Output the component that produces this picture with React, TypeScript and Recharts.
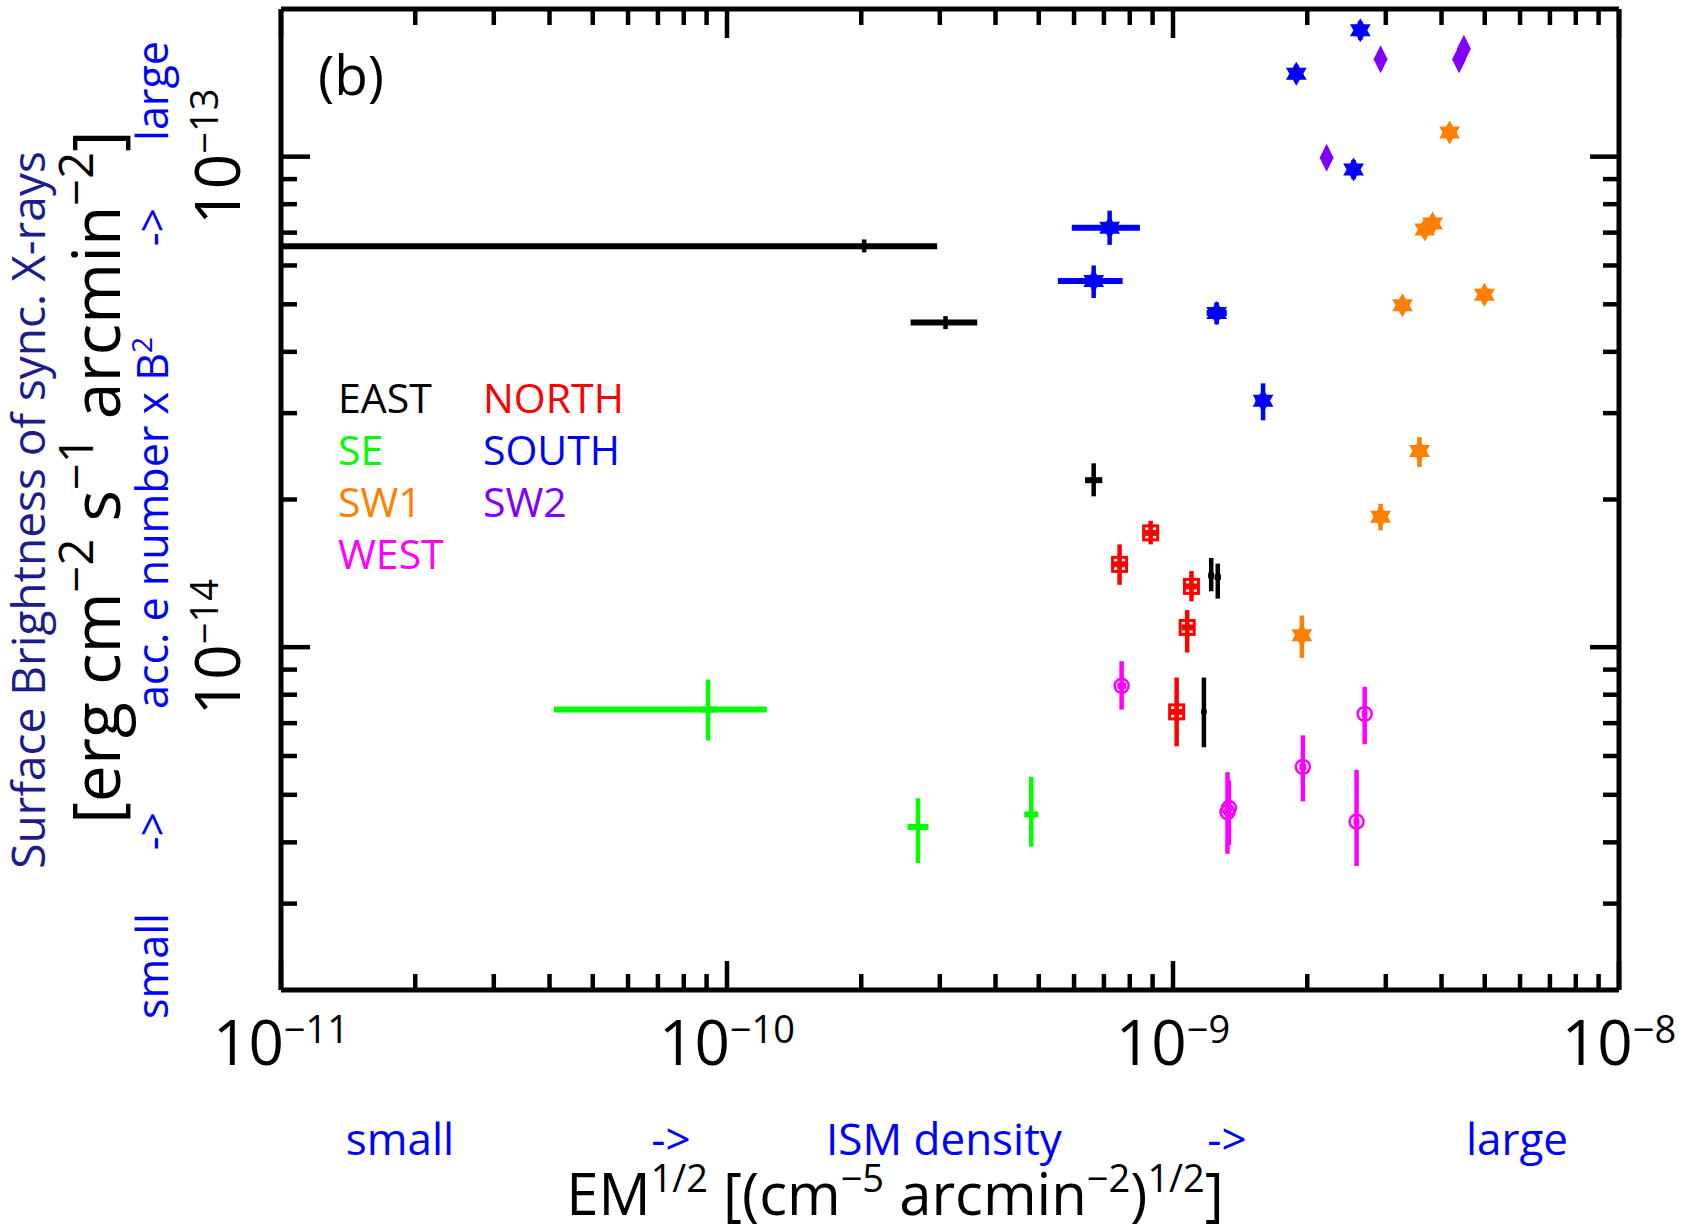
import { ScatterChart, Scatter, XAxis, YAxis, ErrorBar } from "recharts";

const FONT = "'Open Sans', 'Noto Sans', sans-serif";

// each point: [x, y, xLow, xHigh, yLow, yHigh]
type Pt = [number, number, number, number, number, number];

const eastPts: Pt[] = [
  [2.03e-10, 6.57e-14, 1e-11, 2.96e-10, 6.38e-14, 6.78e-14],
  [3.09e-10, 4.59e-14, 2.58e-10, 3.64e-10, 4.45e-14, 4.73e-14],
  [6.64e-10, 2.19e-14, 6.35e-10, 6.94e-10, 2.03e-14, 2.37e-14],
  [1.218e-9, 1.4e-14, 1.2e-9, 1.235e-9, 1.3e-14, 1.52e-14],
  [1.26e-9, 1.39e-14, 1.24e-9, 1.28e-9, 1.256e-14, 1.48e-14],
  [1.173e-9, 7.38e-15, 1.16e-9, 1.186e-9, 6.25e-15, 8.67e-15],
];

const northPts: Pt[] = [
  [7.59e-10, 1.475e-14, 7.35e-10, 7.85e-10, 1.34e-14, 1.62e-14],
  [8.91e-10, 1.71e-14, 8.62e-10, 9.2e-10, 1.62e-14, 1.81e-14],
  [1.1e-9, 1.33e-14, 1.065e-9, 1.135e-9, 1.24e-14, 1.43e-14],
  [1.076e-9, 1.097e-14, 1.045e-9, 1.11e-9, 9.75e-15, 1.19e-14],
  [1.019e-9, 7.38e-15, 9.85e-10, 1.055e-9, 6.28e-15, 8.67e-15],
];

const sePts: Pt[] = [
  [9.07e-11, 7.46e-15, 4.09e-11, 1.228e-10, 6.45e-15, 8.59e-15],
  [2.68e-10, 4.3e-15, 2.54e-10, 2.83e-10, 3.63e-15, 4.92e-15],
  [4.81e-10, 4.56e-15, 4.7e-10, 4.92e-10, 3.92e-15, 5.44e-15],
];

const southPts: Pt[] = [
  [7.21e-10, 7.16e-14, 5.93e-10, 8.43e-10, 6.61e-14, 7.76e-14],
  [6.64e-10, 5.58e-14, 5.52e-10, 7.71e-10, 5.15e-14, 6.0e-14],
  [1.253e-9, 4.8e-14, 1.19e-9, 1.32e-9, 4.55e-14, 5.05e-14],
  [1.592e-9, 3.18e-14, 1.53e-9, 1.65e-9, 2.9e-14, 3.45e-14],
  [1.89e-9, 1.476e-13, 1.83e-9, 1.95e-9, 1.42e-13, 1.54e-13],
  [2.63e-9, 1.81e-13, 2.56e-9, 2.7e-9, 1.73e-13, 1.89e-13],
  [2.54e-9, 9.41e-14, 2.48e-9, 2.6e-9, 9.0e-14, 9.85e-14],
];

const sw1Pts: Pt[] = [
  [4.17e-9, 1.12e-13, 4.07e-9, 4.27e-9, 1.08e-13, 1.16e-13],
  [3.82e-9, 7.31e-14, 3.73e-9, 3.91e-9, 7.05e-14, 7.58e-14],
  [3.67e-9, 7.1e-14, 3.58e-9, 3.76e-9, 6.85e-14, 7.36e-14],
  [3.27e-9, 4.98e-14, 3.19e-9, 3.35e-9, 4.8e-14, 5.16e-14],
  [4.99e-9, 5.23e-14, 4.87e-9, 5.11e-9, 5.04e-14, 5.42e-14],
  [3.57e-9, 2.51e-14, 3.49e-9, 3.65e-9, 2.33e-14, 2.68e-14],
  [2.92e-9, 1.845e-14, 2.85e-9, 2.99e-9, 1.73e-14, 1.96e-14],
  [1.945e-9, 1.057e-14, 1.9e-9, 1.99e-9, 9.51e-15, 1.16e-14],
];

const sw2Pts: Pt[] = [
  [2.92e-9, 1.58e-13, 2.86e-9, 2.98e-9, 1.52e-13, 1.64e-13],
  [4.38e-9, 1.58e-13, 4.3e-9, 4.46e-9, 1.52e-13, 1.64e-13],
  [4.49e-9, 1.66e-13, 4.41e-9, 4.57e-9, 1.6e-13, 1.72e-13],
  [2.21e-9, 9.95e-14, 2.17e-9, 2.25e-9, 9.55e-14, 1.04e-13],
];

const westPts: Pt[] = [
  [7.67e-10, 8.34e-15, 7.5e-10, 7.85e-10, 7.46e-15, 9.36e-15],
  [1.325e-9, 4.61e-15, 1.3e-9, 1.35e-9, 3.79e-15, 5.56e-15],
  [1.335e-9, 4.7e-15, 1.31e-9, 1.36e-9, 3.95e-15, 5.35e-15],
  [1.955e-9, 5.7e-15, 1.92e-9, 1.99e-9, 4.85e-15, 6.61e-15],
  [2.58e-9, 4.41e-15, 2.54e-9, 2.62e-9, 3.58e-15, 5.62e-15],
  [2.69e-9, 7.31e-15, 2.65e-9, 2.73e-9, 6.34e-15, 8.3e-15],
];

const xTicks = [
  1e-11, 2e-11, 3e-11, 4e-11, 5e-11, 6e-11, 7e-11, 8e-11, 9e-11,
  1e-10, 2e-10, 3e-10, 4e-10, 5e-10, 6e-10, 7e-10, 8e-10, 9e-10,
  1e-9, 2e-9, 3e-9, 4e-9, 5e-9, 6e-9, 7e-9, 8e-9, 9e-9, 1e-8,
];
const yTicks = [
  3e-15, 4e-15, 5e-15, 6e-15, 7e-15, 8e-15, 9e-15,
  1e-14, 2e-14, 3e-14, 4e-14, 5e-14, 6e-14, 7e-14, 8e-14, 9e-14, 1e-13,
];

const legendRows = [
  ["EAST", "#000000", "NORTH", "#ff0000"],
  ["SE", "#00ff00", "SOUTH", "#0000ff"],
  ["SW1", "#ff7f00", "SW2", "#7f00ff"],
  ["WEST", "#ff00ff", "", ""],
];

const series = [
  { name: "EAST", color: "#000000", marker: "dot", pts: eastPts },
  { name: "NORTH", color: "#ff0000", marker: "square", pts: northPts },
  { name: "SE", color: "#00ff00", marker: "plus", pts: sePts },
  { name: "SOUTH", color: "#0000ff", marker: "star", pts: southPts },
  { name: "SW1", color: "#ff7f00", marker: "star", pts: sw1Pts },
  { name: "SW2", color: "#7f00ff", marker: "diamond", pts: sw2Pts },
  { name: "WEST", color: "#ff00ff", marker: "circle", pts: westPts },
];

const toData = (pts: Pt[]) =>
  pts.map(([x, y, xl, xh, yl, yh]) => ({ x, y, ex: [x - xl, xh - x], ey: [y - yl, yh - y] }));

const isDecade = (v: number) => Math.abs(Math.log10(v) - Math.round(Math.log10(v))) < 1e-6;
const expLabel = (v: number) => "\u2212" + String(-Math.round(Math.log10(v)));

const MAJOR = 29;
const MINOR = 16;

function BottomTick(props: any) {
  const { x, y, payload } = props;
  const major = isDecade(payload.value);
  return (
    <g>
      <line x1={x} x2={x} y1={y} y2={y - (major ? MAJOR : MINOR)} stroke="#000" strokeWidth={4.5} />
      {major && (
        <text x={x} y={y + 75} textAnchor="middle" fontSize={62} fontFamily={FONT} fill="#000">
          10<tspan fontSize={38} dy={-22}>{expLabel(payload.value)}</tspan>
        </text>
      )}
    </g>
  );
}

function TopTick(props: any) {
  const { x, y, payload } = props;
  const major = isDecade(payload.value);
  return <line x1={x} x2={x} y1={y} y2={y + (major ? MAJOR : MINOR)} stroke="#000" strokeWidth={4.5} />;
}

function LeftTick(props: any) {
  const { x, y, payload } = props;
  const major = isDecade(payload.value);
  return (
    <g>
      <line x1={x} x2={x + (major ? MAJOR : MINOR)} y1={y} y2={y} stroke="#000" strokeWidth={4.5} />
      {major && (
        <text
          transform={`translate(${x - 41},${y}) rotate(-90)`}
          textAnchor="middle"
          fontSize={62}
          fontFamily={FONT}
          fill="#000"
        >
          10<tspan fontSize={38} dy={-22}>{expLabel(payload.value)}</tspan>
        </text>
      )}
    </g>
  );
}

function RightTick(props: any) {
  const { x, y, payload } = props;
  const major = isDecade(payload.value);
  return <line x1={x} x2={x - (major ? MAJOR : MINOR)} y1={y} y2={y} stroke="#000" strokeWidth={4.5} />;
}

function starPoints(cx: number, cy: number, r: number, off: number) {
  return [0, 1, 2]
    .map((i) => {
      const a = off + (i * 2 * Math.PI) / 3;
      return `${cx + r * Math.sin(a)},${cy - r * Math.cos(a)}`;
    })
    .join(" ");
}

function makeShape(marker: string, color: string) {
  return (props: any) => {
    const { cx, cy } = props;
    if (cx == null || cy == null) return <g />;
    switch (marker) {
      case "star":
        return (
          <g>
            <polygon points={starPoints(cx, cy, 12, 0)} fill={color} />
            <polygon points={starPoints(cx, cy, 12, Math.PI)} fill={color} />
          </g>
        );
      case "diamond":
        return (
          <polygon
            points={`${cx},${cy - 14} ${cx + 7},${cy} ${cx},${cy + 14} ${cx - 7},${cy}`}
            fill={color}
          />
        );
      case "square":
        return <rect x={cx - 7} y={cy - 7} width={14} height={14} fill="none" stroke={color} strokeWidth={3} />;
      case "circle":
        return <circle cx={cx} cy={cy} r={7} fill="none" stroke={color} strokeWidth={2.5} />;
      case "plus":
        return <line x1={cx - 7} x2={cx + 7} y1={cy} y2={cy} stroke={color} strokeWidth={6} />;
      default:
        return <circle cx={cx} cy={cy} r={3} fill={color} />;
    }
  };
}

const axisLine = { stroke: "#000", strokeWidth: 5 };

export default function App() {
  return (
    <div style={{ position: "absolute", left: 0, top: 0, width: 1692, height: 1228, background: "#fff" }}>
      <ScatterChart width={1692} height={1228} margin={{ top: 8, right: 72, bottom: 237, left: 280 }}>
        <XAxis
          type="number"
          dataKey="x"
          scale="log"
          domain={[1e-11, 1e-8]}
          allowDataOverflow
          ticks={xTicks}
          interval={0}
          tick={(p: any) => <BottomTick {...p} />}
          tickLine={false}
          tickSize={0}
          tickMargin={0}
          height={1}
          axisLine={axisLine}
        />
        <XAxis
          xAxisId="top"
          orientation="top"
          type="number"
          dataKey="x"
          scale="log"
          domain={[1e-11, 1e-8]}
          allowDataOverflow
          ticks={xTicks}
          interval={0}
          tick={(p: any) => <TopTick {...p} />}
          tickLine={false}
          tickSize={0}
          tickMargin={0}
          height={1}
          axisLine={axisLine}
        />
        <YAxis
          type="number"
          dataKey="y"
          scale="log"
          domain={[2e-15, 2e-13]}
          allowDataOverflow
          ticks={yTicks}
          interval={0}
          tick={(p: any) => <LeftTick {...p} />}
          tickLine={false}
          tickSize={0}
          tickMargin={0}
          width={1}
          axisLine={axisLine}
        />
        <YAxis
          yAxisId="right"
          orientation="right"
          type="number"
          dataKey="y"
          scale="log"
          domain={[2e-15, 2e-13]}
          allowDataOverflow
          ticks={yTicks}
          interval={0}
          tick={(p: any) => <RightTick {...p} />}
          tickLine={false}
          tickSize={0}
          tickMargin={0}
          width={1}
          axisLine={axisLine}
        />
        {series.map((s) => (
          <Scatter
            key={s.name}
            name={s.name}
            data={toData(s.pts)}
            fill={s.color}
            isAnimationActive={false}
            shape={makeShape(s.marker, s.color)}
          >
            <ErrorBar dataKey="ex" direction="x" width={0} stroke={s.color} strokeWidth={6} isAnimationActive={false} />
            <ErrorBar dataKey="ey" direction="y" width={0} stroke={s.color} strokeWidth={4.5} isAnimationActive={false} />
          </Scatter>
        ))}
      </ScatterChart>

      <svg
        width={1692}
        height={1228}
        style={{ position: "absolute", left: 0, top: 0, pointerEvents: "none" }}
        fontFamily={FONT}
      >
        <text x={318} y={95} fontSize={55} fill="#000">(b)</text>

        {legendRows.map((r, i) => (
          <g key={i}>
            <text x={338} y={413 + i * 52} fontSize={41} fill={r[1]}>{r[0]}</text>
            {r[2] && (
              <text x={483} y={413 + i * 52} fontSize={41} fill={r[3]}>{r[2]}</text>
            )}
          </g>
        ))}

        {/* y axis titles */}
        <text transform="translate(45,510) rotate(-90)" textAnchor="middle" fontSize={46} fill="#1c1c8c">
          Surface Brightness of sync. X-rays
        </text>
        <text transform="translate(120,477) rotate(-90)" textAnchor="middle" fontSize={66} fill="#000">
          [erg cm<tspan fontSize={47} dy={-27}>{"\u22122"}</tspan>
          <tspan dy={27}> s</tspan>
          <tspan fontSize={47} dy={-27}>{"\u22121"}</tspan>
          <tspan dy={27}> arcmin</tspan>
          <tspan fontSize={47} dy={-27}>{"\u22122"}</tspan>
          <tspan dy={27}>]</tspan>
        </text>
        <g fill="#0000ff" fontSize={43} textAnchor="middle">
          <text transform="translate(168,91) rotate(-90)">large</text>
          <text transform="translate(168,227) rotate(-90)">{"->"}</text>
          <text transform="translate(168,523) rotate(-90)">
            acc. e number x B<tspan fontSize={28} dy={-16}>2</tspan>
          </text>
          <text transform="translate(168,831) rotate(-90)">{"->"}</text>
          <text transform="translate(168,966) rotate(-90)">small</text>
        </g>

        {/* x axis titles */}
        <g fill="#0000ff" fontSize={44} textAnchor="middle">
          <text x={400} y={1155}>small</text>
          <text x={671} y={1155}>{"->"}</text>
          <text x={944} y={1155}>ISM density</text>
          <text x={1227} y={1155}>{"->"}</text>
          <text x={1517} y={1155}>large</text>
        </g>
        <text x={895} y={1215} textAnchor="middle" fontSize={58} fill="#000">
          EM<tspan fontSize={38} dy={-23}>1/2</tspan>
          <tspan dy={23}> [(cm</tspan>
          <tspan fontSize={38} dy={-23}>{"\u22125"}</tspan>
          <tspan dy={23}> arcmin</tspan>
          <tspan fontSize={38} dy={-23}>{"\u22122"}</tspan>
          <tspan dy={23}>)</tspan>
          <tspan fontSize={38} dy={-23}>1/2</tspan>
          <tspan dy={23}>]</tspan>
        </text>
      </svg>
    </div>
  );
}
